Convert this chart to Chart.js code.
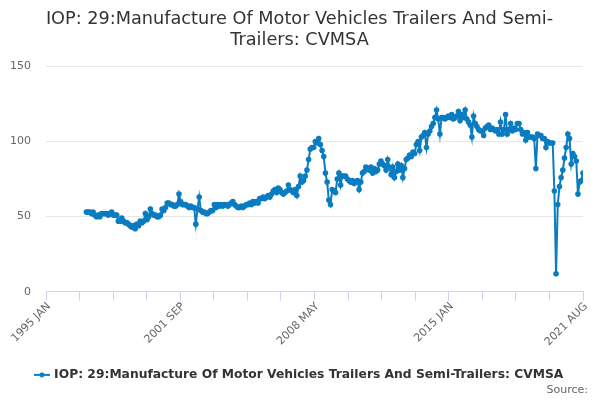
<!DOCTYPE html>
<html>
<head>
<meta charset="utf-8">
<script src="https://cdn.jsdelivr.net/npm/chart.js@4.4.0/dist/chart.umd.min.js"></script>
<style>
    html, body { margin: 0; padding: 0; background: #fff; }
    #wrap { width: 600px; height: 400px; position: relative; }
</style>
</head>
<body>
<div id="wrap"><canvas id="chart1"></canvas></div>
<script>
// Months counted from 1995 JAN (index 0); series starts 1997 JAN
const startMonth = 24
const seriesName = 'IOP: 29:Manufacture Of Motor Vehicles Trailers And Semi-Trailers: CVMSA'
const tickLabels = ['1995 JAN', '2001 SEP', '2008 MAY', '2015 JAN', '2021 AUG']
const yTicks = [0, 50, 100, 150]
const sourceText = 'Source:'

// monthly values, one row per year
const values = [
    53, 53, 53, 52, 53, 51, 50, 51, 50, 52, 52, 52,        // 1997
    52, 51, 52, 53, 51, 51, 51, 47, 47, 49, 47, 46,        // 1998
    46, 45, 44, 43, 44, 42, 45, 44, 47, 46, 47, 52,        // 1999
    48, 50, 55, 52, 51, 51, 50, 50, 51, 55, 54, 56,        // 2000
    59, 59, 58, 58, 57, 57, 58, 65, 60, 58, 58, 58,        // 2001
    57, 56, 57, 56, 56, 45, 55, 63, 54, 53, 53, 52,        // 2002
    52, 53, 54, 54, 58, 56, 58, 57, 58, 57, 58, 58,        // 2003
    57, 58, 59, 60, 58, 57, 56, 56, 57, 56, 57, 58,        // 2004
    58, 59, 58, 60, 59, 60, 59, 62, 62, 63, 62, 63,        // 2005
    64, 63, 65, 67, 68, 66, 69, 68, 66, 65, 66, 67,        // 2006
    71, 68, 67, 66, 68, 64, 70, 77, 73, 74, 77, 81,        // 2007
    88, 95, 96, 96, 100, 99, 102, 98, 94, 90, 79, 73,      // 2008
    61, 58, 68, 67, 66, 75, 79, 71, 77, 77, 77, 75,        // 2009
    74, 73, 74, 72, 73, 74, 68, 73, 79, 80, 83, 82,        // 2010
    81, 83, 79, 82, 80, 81, 85, 87, 85, 84, 81, 88,        // 2011
    83, 78, 83, 76, 80, 85, 81, 84, 76, 82, 88, 89,        // 2012
    91, 90, 93, 92, 98, 100, 94, 103, 104, 106, 96, 105,   // 2013
    107, 110, 112, 116, 121, 115, 105, 116, 116, 115, 116, 117, // 2014
    116, 118, 115, 116, 117, 120, 114, 118, 116, 121, 115, 113, // 2015
    111, 103, 117, 112, 110, 108, 107, 107, 104, 109, 110, 111, // 2016
    108, 109, 108, 107, 108, 105, 113, 105, 108, 118, 105, 108, // 2017
    112, 107, 109, 108, 112, 112, 108, 105, 106, 101, 106, 103, // 2018
    103, 103, 102, 82, 105, 104, 104, 102, 102, 96, 100, 99,    // 2019
    99, 99, 67, 12, 58, 70, 76, 81, 89, 96, 105, 102,           // 2020
    85, 92, 90, 87, 65, 73, 74, 79                              // 2021 (to AUG)
]

const lastMonth = startMonth + values.length - 1
const lineColor = '#0a7cc0'

// legend symbol: short line with a dot
const legendIcon = document.createElement('canvas')
legendIcon.width = 16
legendIcon.height = 8
const ic = legendIcon.getContext('2d')
ic.strokeStyle = lineColor
ic.lineWidth = 2
ic.beginPath(); ic.moveTo(0, 4); ic.lineTo(16, 4); ic.stroke()
ic.fillStyle = lineColor
ic.beginPath(); ic.arc(8, 4, 2.5, 0, Math.PI * 2); ic.fill()

// x labels at 45 degrees hanging off every 4th tick, plus the source line
const slantLabels = {
    id: 'slantLabels',
    afterDraw(chart) {
        const sx = chart.scales.x
        const c = chart.ctx
        c.save()
        c.font = '11px "DejaVu Sans"'
        c.fillStyle = '#666666'
        c.textAlign = 'right'
        c.textBaseline = 'middle'
        sx.ticks.forEach((t, i) => {
            if (i % 4 !== 0) return
            const px = sx.getPixelForValue(t.value)
            c.save()
            c.translate(px + 3, sx.top + 13)
            c.rotate(-Math.PI / 4)
            c.fillText(tickLabels[i / 4], 0, 0)
            c.restore()
        })
        c.fillText(sourceText, chart.width - 12, chart.height - 10)
        c.restore()
    }
}

const ctx = document.getElementById('chart1').getContext('2d')

const chart1 = new Chart(ctx, {
    type: 'line',
    data: {
        datasets: [{
            label: seriesName,
            data: values.map((v, i) => ({ x: startMonth + i, y: v })),
            borderColor: lineColor,
            backgroundColor: lineColor,
            borderWidth: 2,
            pointRadius: 1.8,
            pointHoverRadius: 3,
            tension: 0,
            yAxisID: 'y'
        }]
    },
    plugins: [slantLabels],
    options: {
        responsive: true,
        maintainAspectRatio: false,
        animation: false,
        layout: { padding: { left: 11, right: 12, top: 4, bottom: 9 } },
        plugins: {
            title: {
                display: true,
                text: ['IOP: 29:Manufacture Of Motor Vehicles Trailers And Semi-', 'Trailers: CVMSA'],
                color: '#333333',
                font: { family: 'DejaVu Sans', size: 17.7, weight: 'normal', lineHeight: 1.2 },
                padding: { top: 5, bottom: 15 }
            },
            legend: {
                position: 'bottom',
                labels: {
                    usePointStyle: true,
                    pointStyle: legendIcon,
                    color: '#333333',
                    font: { family: 'DejaVu Sans', size: 12.3, weight: 'bold' },
                    padding: 2
                }
            },
            tooltip: { enabled: false }
        },
        scales: {
            x: {
                type: 'linear',
                min: 0,
                max: lastMonth,
                afterBuildTicks: (scale) => {
                    const t = []
                    for (let i = 0; i <= 16; i++) t.push({ value: i * lastMonth / 16 })
                    scale.ticks = t
                },
                afterFit: (scale) => { scale.height = 75 },
                ticks: { display: false },
                grid: {
                    drawOnChartArea: false,
                    drawTicks: true,
                    tickLength: 9,
                    color: '#ccd6eb'
                },
                border: { color: '#ccd6eb', width: 1 }
            },
            y: {
                min: 0,
                max: 150,
                afterBuildTicks: (scale) => {
                    scale.ticks = yTicks.map(v => ({ value: v }))
                },
                afterFit: (scale) => { scale.width = 35 },
                ticks: {
                    color: '#666666',
                    font: { family: 'DejaVu Sans', size: 11 },
                    padding: 15
                },
                grid: {
                    color: '#e6e6e6',
                    drawTicks: false
                },
                border: { display: false }
            },
            // empty spacer on the right, keeps the plot edge at the last tick
            yr: {
                position: 'right',
                display: true,
                afterFit: (scale) => { scale.width = 5 },
                ticks: { display: false },
                grid: { display: false },
                border: { display: false }
            }
        }
    }
})
</script>
</body>
</html>
